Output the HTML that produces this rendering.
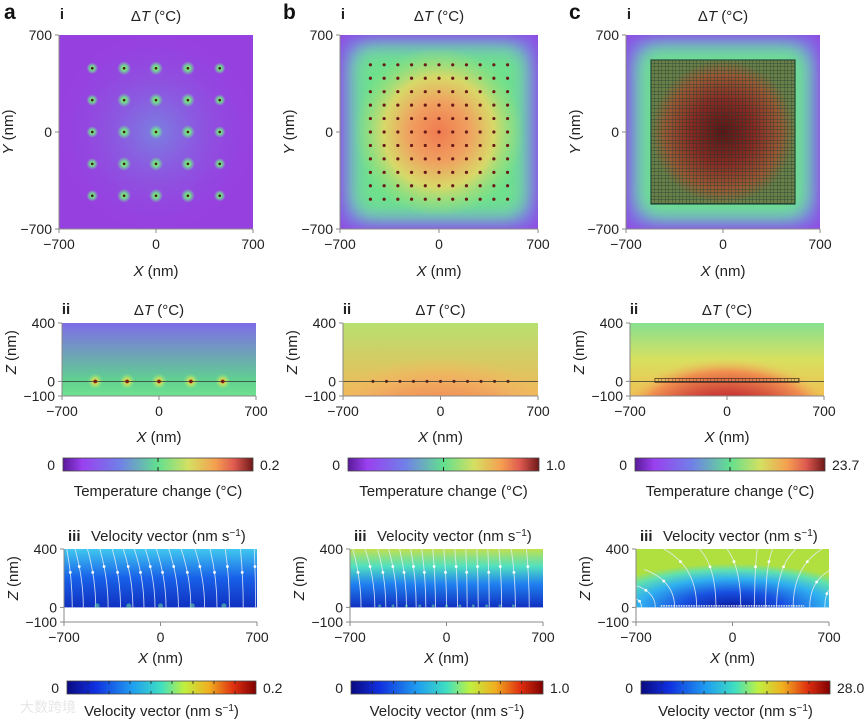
<!DOCTYPE html>
<html><head><meta charset="utf-8">
<style>
html,body{margin:0;padding:0;background:#fff;}
svg{display:block;font-family:"Liberation Sans","Noto Sans CJK SC",sans-serif;}
</style></head>
<body>
<svg id="fig" width="864" height="719" viewBox="0 0 864 719" xmlns="http://www.w3.org/2000/svg">
<defs>
<linearGradient id="tempMap" x1="0" x2="1" y1="0" y2="0">
<stop offset="0" stop-color="#5a1a9a"/><stop offset="0.1" stop-color="#9a40f0"/><stop offset="0.3" stop-color="#7080e8"/><stop offset="0.5" stop-color="#62e08e"/><stop offset="0.66" stop-color="#d4e062"/><stop offset="0.8" stop-color="#f5a050"/><stop offset="0.9" stop-color="#e05a50"/><stop offset="1" stop-color="#6e1818"/>
</linearGradient>
<linearGradient id="jetMap" x1="0" x2="1" y1="0" y2="0">
<stop offset="0" stop-color="#0a0a80"/><stop offset="0.15" stop-color="#1030e0"/><stop offset="0.35" stop-color="#20a0f0"/><stop offset="0.5" stop-color="#40e0c0"/><stop offset="0.62" stop-color="#c0f040"/><stop offset="0.75" stop-color="#f0b020"/><stop offset="0.88" stop-color="#e03010"/><stop offset="1" stop-color="#800000"/>
</linearGradient>
<radialGradient id="dotGlowA"><stop offset="0" stop-color="#d8f060"/><stop offset="0.35" stop-color="#70e090"/><stop offset="1" stop-color="#70e090" stop-opacity="0"/></radialGradient>
<radialGradient id="dotGlowII"><stop offset="0" stop-color="#f0a040"/><stop offset="0.4" stop-color="#c0e060"/><stop offset="1" stop-color="#80e090" stop-opacity="0"/></radialGradient>
<radialGradient id="centerA"><stop offset="0" stop-color="#7a80e0"/><stop offset="1" stop-color="#9640e0" stop-opacity="0"/></radialGradient>
<radialGradient id="centerB"><stop offset="0" stop-color="#f07a50"/><stop offset="0.35" stop-color="#f0a060"/><stop offset="0.65" stop-color="#d8d868"/><stop offset="1" stop-color="#a0e078" stop-opacity="0"/></radialGradient>
<radialGradient id="centerC"><stop offset="0" stop-color="#5a1414"/><stop offset="0.45" stop-color="#8a2a22"/><stop offset="0.8" stop-color="#9a5a34"/><stop offset="1" stop-color="#6a8048"/></radialGradient>
<radialGradient id="iiB" cx="0.5" cy="1" r="0.65"><stop offset="0" stop-color="#d03030"/><stop offset="0.45" stop-color="#f07850"/><stop offset="0.8" stop-color="#f0b060"/><stop offset="1" stop-color="#f0c060" stop-opacity="0"/></radialGradient>
<radialGradient id="iiC" cx="0.5" cy="0.8" r="0.5"><stop offset="0" stop-color="#7a1414"/><stop offset="0.45" stop-color="#c83434"/><stop offset="0.8" stop-color="#f09050"/><stop offset="1" stop-color="#e8d060" stop-opacity="0"/></radialGradient>
<linearGradient id="iiAbg" x1="0" y1="0" x2="0" y2="1"><stop offset="0" stop-color="#7f6ce8"/><stop offset="0.78" stop-color="#60d090"/><stop offset="1" stop-color="#70e090"/></linearGradient>
<linearGradient id="iiBbg" x1="0" y1="0" x2="0" y2="1"><stop offset="0" stop-color="#b8e070"/><stop offset="1" stop-color="#f0b858"/></linearGradient>
<linearGradient id="iiCbg" x1="0" y1="0" x2="0" y2="1"><stop offset="0" stop-color="#88e090"/><stop offset="0.5" stop-color="#d8e060"/><stop offset="1" stop-color="#f0c050"/></linearGradient>
<linearGradient id="iiiA" x1="0" y1="0" x2="0" y2="1"><stop offset="0" stop-color="#40c8f0"/><stop offset="0.5" stop-color="#1860e8"/><stop offset="1" stop-color="#1030c0"/></linearGradient>
<linearGradient id="iiiB" x1="0" y1="0" x2="0" y2="1"><stop offset="0" stop-color="#c0e050"/><stop offset="0.3" stop-color="#50e0c0"/><stop offset="0.6" stop-color="#2080f0"/><stop offset="1" stop-color="#1030c0"/></linearGradient>
<radialGradient id="iiiC" cx="0.5" cy="1" r="0.75"><stop offset="0" stop-color="#0a1aa0"/><stop offset="0.35" stop-color="#1850e0"/><stop offset="0.65" stop-color="#30b0f0"/><stop offset="0.85" stop-color="#60e0b0"/><stop offset="1" stop-color="#b0e040"/></radialGradient>
<pattern id="gridPat" width="3.5" height="3.5" patternUnits="userSpaceOnUse"><path d="M0 0H3.5M0 0V3.5" stroke="#1a3a30" stroke-width="0.9" fill="none" opacity="0.75"/></pattern>
<filter id="blur8" x="-30%" y="-30%" width="160%" height="160%"><feGaussianBlur stdDeviation="8"/></filter>
<filter id="blur4" x="-30%" y="-30%" width="160%" height="160%"><feGaussianBlur stdDeviation="4"/></filter>
</defs>
<g id="root"></g>
</svg>
<script>
// ---- data ----
const colLetters = ['a','b','c'];
const cbMax = ['0.2','1.0','23.7'];
const velMax = ['0.2','1.0','28.0'];
const xTicks = [-700, 0, 700];
const yTicks = [-700, 0, 700];
const zTicks = [-100, 0, 400];
const dotsA = [-460, -230, 0, 230, 460];
const dotsB = [-485,-388,-291,-194,-97,0,97,194,291,388,485];
const dotsAIntensity = [0.75, 0.9, 0.9, 0.9, 0.75];
const streamA_bottom = [-640,-560,-470,-380,-290,-200,-120,-40,40,130,220,320,410,500,600,690];
const streamA_top = [-680,-620,-530,-440,-350,-270,-190,-110,-30,60,150,250,360,470,580,680];
const streamB_bottom = [-620,-520,-440,-360,-290,-220,-150,-80,0,80,150,230,310,400,500,600];
const streamB_top = [-680,-590,-500,-420,-340,-260,-180,-100,-20,60,140,220,300,380,470,580];
const streamC_bottom = [-660,-560,-420,-260,-120,60,160,240,320,440,560,670];
const streamC_top = [-700,-700,-640,-500,-240,-40,180,290,460,650,700,700];
const streamC_exitZ = [60,150,260,400,400,400,400,400,400,400,250,120];

const NS='http://www.w3.org/2000/svg';
const root=document.getElementById('root');
function mk(tag, attrs, parent){const e=document.createElementNS(NS,tag);for(const k in attrs)e.setAttribute(k,attrs[k]);(parent||root).appendChild(e);return e;}
function txt(s,x,y,size,anchor,parent,extra){const t=mk('text',Object.assign({x:x,y:y,'font-size':size,'text-anchor':anchor||'middle',fill:'#222'},extra||{}),parent);t.innerHTML=s;return t;}

const cols=[
 {i:[59,253],ii:[62,256],iii:[64,257],cb:[63,253],cb3:[67,256]},
 {i:[340,538],ii:[343,538],iii:[350,543],cb:[348,539],cb3:[351,543]},
 {i:[626,820],ii:[630,824],iii:[636,829],cb:[635,825],cb3:[641,830]}
];
const Yi=[35,229], Yii=[323,396], Yiii=[549,622];

function lin(d0,d1,r0,r1){return v=>r0+(v-d0)/(d1-d0)*(r1-r0);}

cols.forEach((c,ci)=>{
 const g=mk('g',{});
 
 
 const L=txt(colLetters[ci],c.i[0]-57+ (ci==0?2:0),19,21,'start',g,{'font-weight':'bold',fill:'#111'});
 
 

 // ===== panel i =====
 const pi=mk('g',{},g);
 
 
 const xs=lin(-700,700,c.i[0],c.i[1]), ys=lin(-700,700,Yi[1],Yi[0]);
 const W=c.i[1]-c.i[0], H=Yi[1]-Yi[0];
 mk('rect',{x:c.i[0],y:Yi[0],width:W,height:H,fill:'#9640e0'},pi);
 const clipId='clipI'+ci;
 const cp=mk('clipPath',{id:clipId},pi); mk('rect',{x:c.i[0],y:Yi[0],width:W,height:H},cp);
 const pg=mk('g',{'clip-path':'url(#'+clipId+')'},pi);
 if(ci==0){
  mk('circle',{cx:xs(0),cy:ys(0),r:W*0.55,fill:'url(#centerA)'},pg);
  dotsA.forEach((yv,yi)=>dotsA.forEach((xv,xi)=>{
   const gl=mk('circle',{cx:xs(xv),cy:ys(yv),r:7*dotsAIntensity[xi]*1.1,fill:'url(#dotGlowA)'},pg);
   
   
   const d=mk('circle',{cx:xs(xv),cy:ys(yv),r:1.4,fill:'#3a2a10'},pg);
   
   
  }));
 } else {
  mk('rect',{x:c.i[0],y:Yi[0],width:W,height:H,fill:'#7a78e8',opacity:0.8,filter:'url(#blur8)'},pg);
  mk('rect',{x:xs(-640),y:ys(640),width:xs(640)-xs(-640),height:ys(-640)-ys(640),rx:22,fill:'#6fc0c0',filter:'url(#blur8)'},pg);
  mk('rect',{x:xs(-580),y:ys(580),width:xs(580)-xs(-580),height:ys(-580)-ys(580),rx:16,fill:'#6ee08c',filter:'url(#blur8)'},pg);
  if(ci==1){
   mk('circle',{cx:xs(0),cy:ys(0),r:xs(600)-xs(0),fill:'url(#centerB)'},pg);
   dotsB.forEach(yv=>dotsB.forEach(xv=>{
    const d=mk('circle',{cx:xs(xv),cy:ys(yv),r:1.6,fill:'#6a1a18'},pg);
    
    
   }));
  } else {
   mk('rect',{x:xs(-520),y:ys(520),width:xs(520)-xs(-520),height:ys(-520)-ys(520),fill:'url(#centerC)'},pg);
   const gr=mk('rect',{x:xs(-520),y:ys(520),width:xs(520)-xs(-520),height:ys(-520)-ys(520),fill:'url(#gridPat)',stroke:'#1a3a30','stroke-width':1},pg);
   
   
  }
 }
 drawAxes(g,c.i[0],c.i[1],Yi[0],Yi[1],xTicks,xs,yTicks,ys,'Y');
 txt('i',c.i[0]+3,19,15,'middle',g,{'font-weight':'bold'});
 const ti=txt('Δ<tspan font-style="italic">T</tspan> (°C)',(c.i[0]+c.i[1])/2,21,15,'middle',g);
 
 
 txt('<tspan font-style="italic">X</tspan> (nm)',(c.i[0]+c.i[1])/2,276,15,'middle',g);

 // ===== panel ii =====
 const p2=mk('g',{},g);
 
 
 const xs2=lin(-700,700,c.ii[0],c.ii[1]), zs2=lin(400,-100,Yii[0],Yii[1]);
 const W2=c.ii[1]-c.ii[0], H2=Yii[1]-Yii[0];
 const bgs=['url(#iiAbg)','url(#iiBbg)','url(#iiCbg)'];
 mk('rect',{x:c.ii[0],y:Yii[0],width:W2,height:H2,fill:bgs[ci]},p2);
 const cp2=mk('clipPath',{id:'clipII'+ci},p2); mk('rect',{x:c.ii[0],y:Yii[0],width:W2,height:H2},cp2);
 const pg2=mk('g',{'clip-path':'url(#clipII'+ci+')'},p2);
 if(ci==0){
  dotsA.forEach(xv=>{
   mk('circle',{cx:xs2(xv),cy:zs2(0),r:8,fill:'url(#dotGlowII)'},pg2);
   const d=mk('circle',{cx:xs2(xv),cy:zs2(0),r:1.8,fill:'#8a1a10'},pg2);
   
   
  });
 } else if(ci==1){
  mk('ellipse',{cx:xs2(0),cy:zs2(0),rx:W2*0.6,ry:H2*1.1,fill:'url(#iiB)'},pg2);
  dotsB.forEach(xv=>{
   const d=mk('circle',{cx:xs2(xv),cy:zs2(0),r:1.5,fill:'#5a1a10'},pg2);
   
   
  });
 } else {
  mk('ellipse',{cx:xs2(0),cy:zs2(0)+4,rx:W2*0.6,ry:H2*0.95,fill:'url(#iiC)'},pg2);
  const ar=mk('rect',{x:xs2(-520),y:zs2(0)-3,width:xs2(520)-xs2(-520),height:4,fill:'url(#gridPat)',stroke:'#3a1a10','stroke-width':0.6},pg2);
  
  
 }
 mk('line',{x1:c.ii[0],x2:c.ii[1],y1:zs2(0),y2:zs2(0),stroke:'#333','stroke-width':0.8},pg2);
 drawAxes(g,c.ii[0],c.ii[1],Yii[0],Yii[1],xTicks,xs2,zTicks,zs2,'Z');
 txt('ii',c.ii[0]+4,314,15,'middle',g,{'font-weight':'bold'});
 txt('Δ<tspan font-style="italic">T</tspan> (°C)',(c.ii[0]+c.ii[1])/2,315,15,'middle',g);
 txt('<tspan font-style="italic">X</tspan> (nm)',(c.ii[0]+c.ii[1])/2,442,15,'middle',g);

 // colourbar temperature
 const cb=mk('g',{},g);
 
 
 mk('rect',{x:c.cb[0],y:458,width:c.cb[1]-c.cb[0],height:13,fill:'url(#tempMap)',stroke:'#444','stroke-width':0.8},cb);
 const mx=(c.cb[0]+c.cb[1])/2;
 mk('line',{x1:mx,x2:mx,y1:458,y2:462,stroke:'#222'},cb);mk('line',{x1:mx,x2:mx,y1:467,y2:471,stroke:'#222'},cb);
 txt('0',c.cb[0]-8,470,14,'end',cb);
 txt(cbMax[ci],c.cb[1]+7,470,14,'start',cb);
 txt('Temperature change (°C)',(c.cb[0]+c.cb[1])/2,496,15,'middle',cb);

 // ===== panel iii =====
 const p3=mk('g',{},g);
 
 
 const xs3=lin(-700,700,c.iii[0],c.iii[1]), zs3=lin(400,-100,Yiii[0],Yiii[1]);
 const W3=c.iii[1]-c.iii[0];
 const bg3=['url(#iiiA)','url(#iiiB)','url(#iiiC)'];
 mk('rect',{x:c.iii[0],y:zs3(400),width:W3,height:zs3(0)-zs3(400),fill:bg3[ci]},p3);
 const cp3=mk('clipPath',{id:'clipIII'+ci},p3); mk('rect',{x:c.iii[0],y:zs3(400),width:W3,height:zs3(0)-zs3(400)},cp3);
 const pg3=mk('g',{'clip-path':'url(#clipIII'+ci+')'},p3);
 const sb=[streamA_bottom,streamB_bottom,streamC_bottom][ci];
 const st=[streamA_top,streamB_top,streamC_top][ci];
 sb.forEach((x0,k)=>{
  const x1=st[k];
  const zEnd= ci==2? streamC_exitZ[k]:400;
  const px0=xs3(x0),py0=zs3(0),px1=xs3(x1),py1=zs3(zEnd);
  const cx=px0, cy= ci==2? py1+(py0-py1)*0.3: (py0+py1)/2;
  const p=mk('path',{d:`M${px0} ${py0} Q${cx} ${cy} ${px1} ${py1}`,fill:'none',stroke:'#e8eef8','stroke-width':0.9,opacity:0.85},pg3);
  
  
  const t=0.6+0.1*(k%2), ax=(1-t)*(1-t)*px0+2*(1-t)*t*cx+t*t*px1, ay=(1-t)*(1-t)*py0+2*(1-t)*t*cy+t*t*py1;
  mk('circle',{cx:ax,cy:ay,r:1.4,fill:'#fff'},pg3);
 });
 if(ci==2){mk('line',{x1:xs3(-520),x2:xs3(520),y1:zs3(0)-1.5,y2:zs3(0)-1.5,stroke:'#f0f0f0','stroke-width':1.5,'stroke-dasharray':'1.5 1'},pg3);}
 else {(ci==0?dotsA:dotsB).forEach(xv=>mk('circle',{cx:xs3(xv),cy:zs3(0)-1.5,r:ci==0?2.5:1.5,fill:'#60d0a0',opacity:0.6},pg3));}
 drawAxes(g,c.iii[0],c.iii[1],Yiii[0],Yiii[1],xTicks,xs3,zTicks,zs3,'Z');
 txt('iii',c.iii[0]+4,541,15,'start',g,{'font-weight':'bold'});
 txt('Velocity vector (nm s<tspan dy="-5" font-size="10">−1</tspan><tspan dy="5">)</tspan>',c.iii[0]+27,541,15,'start',g);
 txt('<tspan font-style="italic">X</tspan> (nm)',(c.iii[0]+c.iii[1])/2,663,15,'middle',g);

 const cb3=mk('g',{},g);
 
 
 const w3=c.cb3[1]-c.cb3[0];
 mk('rect',{x:c.cb3[0],y:681,width:w3,height:13,fill:'url(#jetMap)',stroke:'#444','stroke-width':0.8},cb3);
 for(let k=1;k<9;k++){const tx=c.cb3[0]+w3*k/9;mk('line',{x1:tx,x2:tx,y1:681,y2:684,stroke:'#222','stroke-width':0.8},cb3);mk('line',{x1:tx,x2:tx,y1:691,y2:694,stroke:'#222','stroke-width':0.8},cb3);}
 txt('0',c.cb3[0]-8,693,14,'end',cb3);
 txt(velMax[ci],c.cb3[1]+7,693,14,'start',cb3);
 txt('Velocity vector (nm s<tspan dy="-5" font-size="10">−1</tspan><tspan dy="5">)</tspan>',(c.cb3[0]+c.cb3[1])/2,716,15,'middle',cb3);
});

function drawAxes(g,x0,x1,y0,y1,xt,xs,yt,ys,lab){
 const a=mk('g',{},g);
 
 
 mk('line',{x1:x0,x2:x0,y1:y0,y2:y1,stroke:'#888','stroke-width':1},a);
 mk('line',{x1:x0,x2:x1,y1:y1,y2:y1,stroke:'#888','stroke-width':1},a);
 xt.forEach(v=>{mk('line',{x1:xs(v),x2:xs(v),y1:y1,y2:y1+4,stroke:'#888'},a);txt(v<0?'−'+(-v):v,xs(v),y1+20,14,'middle',a);});
 yt.forEach(v=>{mk('line',{x1:x0-4,x2:x0,y1:ys(v),y2:ys(v),stroke:'#888'},a);txt(v<0?'−'+(-v):v,x0-7,ys(v)+5,14,'end',a);});
 const cy=(lab=='Y')?(y0+y1)/2:(ys(0)+ys(400))/2;
 txt('<tspan font-style="italic">'+lab+'</tspan> (nm)',0,0,15,'middle',a,{transform:`translate(${x0-46},${cy}) rotate(-90)`});
}
const wm=txt('大数跨境',20,712,14,'start',root,{fill:'#ddd',opacity:0.7});


</script>
</body></html>
